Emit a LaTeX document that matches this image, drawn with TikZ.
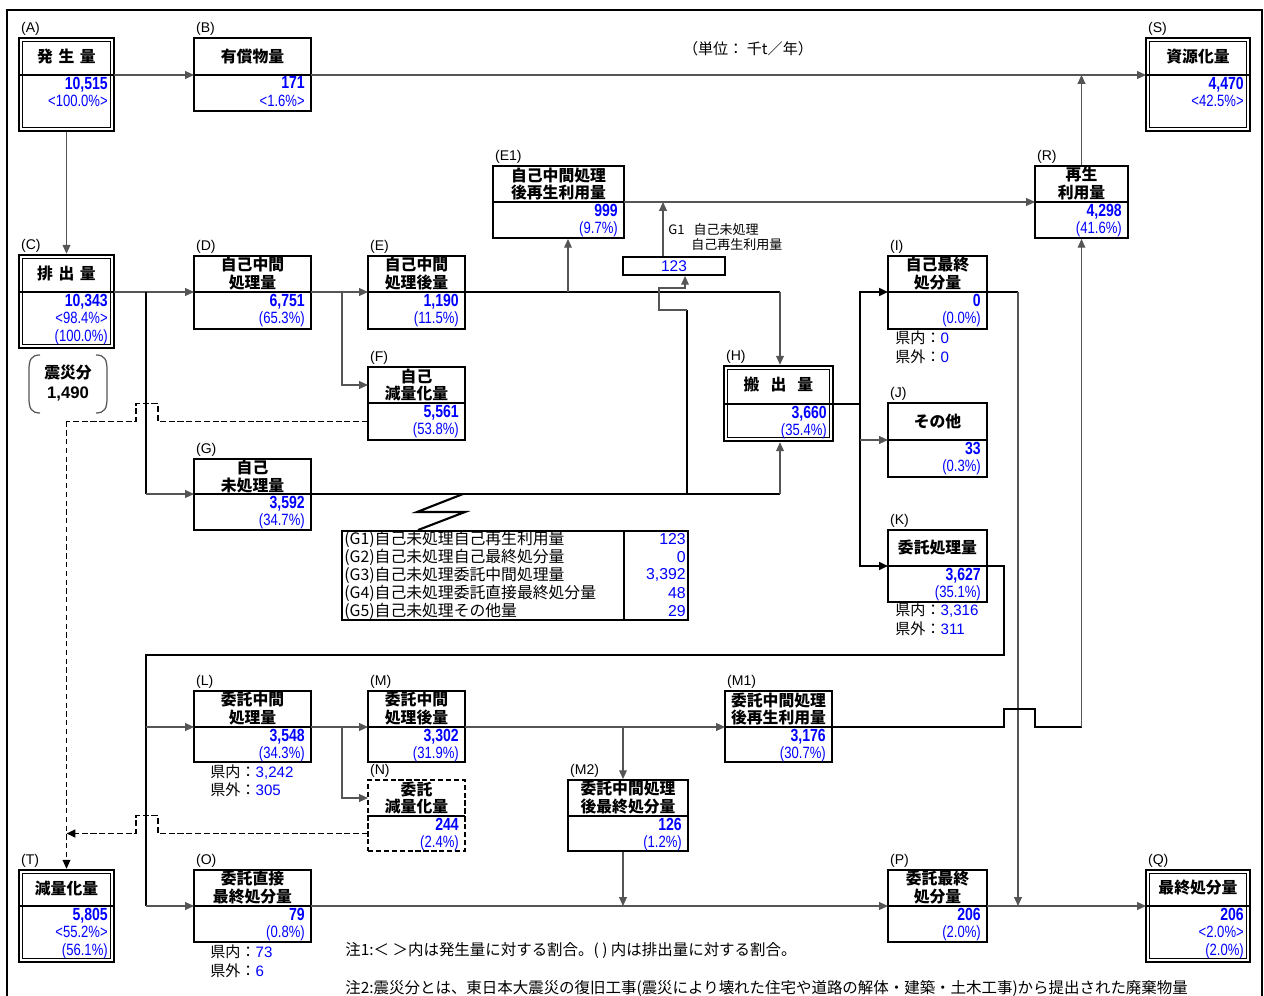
\documentclass[tikz,border=0pt]{standalone}
\usepackage{fontspec}
\setmainfont{Liberation Sans}
\newfontfamily\jp{Noto Sans CJK JP}
\newfontfamily\numfont{Liberation Sans}[FakeStretch=0.8]
\usetikzlibrary{arrows.meta, fit}
\definecolor{ValBlue}{HTML}{0000FF}
\definecolor{LineGray}{HTML}{555555}
\newcommand{\val}[1]{{\numfont\bfseries\fontsize{10}{10.2}\selectfont #1}}
\newcommand{\pct}[1]{{\numfont\fontsize{9.3}{10.2}\selectfont #1}}
\newcommand{\bl}[1]{\textcolor{ValBlue}{\rmfamily #1}}

\tikzset{
  sbox/.style={draw, line width=1.1pt},
  sbox-in/.style={},
  dbox/.style={draw, line width=1.4pt},
  dbox-in/.style={draw, line width=0.7pt},
  nbox/.style={draw, line width=1.1pt, dash pattern=on 3pt off 1.5pt},
  nbox-in/.style={},
  divln/.style={line width=1.1pt},
  hdr/.style={font=\jp\bfseries\fontsize{9}{10.2}\selectfont, align=center, inner sep=0pt},
  vals/.style={anchor=north east, align=right, inner sep=0.8pt, text=ValBlue, font=\fontsize{9.3}{10.2}\selectfont},
  tagtxt/.style={anchor=south west, inner sep=1pt, font=\fontsize{8}{9}\selectfont},
  mainln/.style={line width=1.2pt},
  subln/.style={line width=0.7pt, draw=LineGray},
  dashln/.style={line width=1.1pt, dash pattern=on 3.5pt off 1.5pt},
  dashthin/.style={line width=0.6pt, dash pattern=on 3pt off 2pt},
  jptxt/.style={anchor=west, inner sep=0pt, font=\jp\fontsize{8.6}{10}\selectfont},
}

% style, name, x1, y1, x2, y2, divider y, header, values
\newcommand{\qbox}[9]{%
  \node[#1, fit={(#3,#4) (#5,#6)}, inner sep=0pt] (#2) {};
  \path[#1-in] (#3+3.2,#4+3.2) rectangle (#5-3.2,#6-3.2);
  \draw[divln] (#3,#7) -- (#5,#7);
  \coordinate (#2-l) at (#3,#7);
  \coordinate (#2-r) at (#5,#7);
  \coordinate (#2-hl) at (#3,{(#4+#7)/2});
  \coordinate (#2-vl) at (#3,{(#7+#6)/2});
  \node[hdr] (#2-h) at ({(#3+#5)/2},{(#4+#7)/2}) {#8};
  \node[vals] (#2-v) at (#5-4.5,#7) {#9};
  \node[tagtxt] (#2-t) at (#3,#4) {(#2)};
}

\begin{document}
\begin{tikzpicture}[x=0.02cm, y=-0.02cm, >={Triangle[length=5pt,width=4.4pt]}]
  \useasboundingbox (0,0) rectangle (1264,996);
  \draw[line width=1.1pt] (7,996) -- (7,10) -- (1262,10) -- (1262,996);
  \node[font=\jp\fontsize{8.6}{10}\selectfont] (unit) at (748,49) {（単位：\ 千t／年）};

  % boxes
  \qbox{dbox}{A}{19}{38}{114}{131}{75}{発\hspace{0.35em}生\hspace{0.35em}量}{\val{10,515}\\\pct{<100.0\%>}}
  \qbox{sbox}{B}{194}{38}{311}{111}{75}{有償物量}{\val{171}\\\pct{<1.6\%>}}
  \qbox{dbox}{S}{1146}{38}{1250}{131}{75}{資源化量}{\val{4,470}\\\pct{<42.5\%>}}
  \qbox{dbox}{C}{19}{255}{114}{348}{292}{排\hspace{0.35em}出\hspace{0.35em}量}{\val{10,343}\\\pct{<98.4\%>}\\\pct{(100.0\%)}}
  \qbox{sbox}{D}{194}{256}{311}{329}{292}{自己中間\\処理量}{\val{6,751}\\\pct{(65.3\%)}}
  \qbox{sbox}{E}{368}{256}{465}{329}{292}{自己中間\\処理後量}{\val{1,190}\\\pct{(11.5\%)}}
  \qbox{sbox}{F}{368}{367}{465}{440}{403}{自己\\減量化量}{\val{5,561}\\\pct{(53.8\%)}}
  \qbox{sbox}{G}{194}{459}{311}{530}{494}{自己\\未処理量}{\val{3,592}\\\pct{(34.7\%)}}
  \qbox{sbox}{E1}{493}{166}{624}{238}{202}{自己中間処理\\後再生利用量}{\val{999}\\\pct{(9.7\%)}}
  \qbox{dbox}{H}{724}{366}{833}{441}{404}{搬\hspace{0.7em}出\hspace{0.7em}量}{\val{3,660}\\\pct{(35.4\%)}}
  \qbox{sbox}{I}{888}{256}{987}{329}{292}{自己最終\\処分量}{\val{0}\\\pct{(0.0\%)}}
  \qbox{sbox}{J}{888}{403}{987}{477}{440}{その他}{\val{33}\\\pct{(0.3\%)}}
  \qbox{sbox}{K}{888}{530}{987}{602}{566}{委託処理量}{\val{3,627}\\\pct{(35.1\%)}}
  \qbox{sbox}{R}{1035}{166}{1128}{238}{202}{再生\\利用量}{\val{4,298}\\\pct{(41.6\%)}}
  \qbox{sbox}{L}{194}{691}{311}{762}{727}{委託中間\\処理量}{\val{3,548}\\\pct{(34.3\%)}}
  \qbox{sbox}{M}{368}{691}{465}{762}{727}{委託中間\\処理後量}{\val{3,302}\\\pct{(31.9\%)}}
  \qbox{nbox}{N}{368}{780}{465}{851}{816}{委託\\減量化量}{\val{244}\\\pct{(2.4\%)}}
  \qbox{sbox}{M1}{725}{691}{832}{762}{727}{委託中間処理\\後再生利用量}{\val{3,176}\\\pct{(30.7\%)}}
  \qbox{sbox}{M2}{568}{780}{688}{851}{816}{委託中間処理\\後最終処分量}{\val{126}\\\pct{(1.2\%)}}
  \qbox{sbox}{O}{194}{870}{311}{942}{906}{委託直接\\最終処分量}{\val{79}\\\pct{(0.8\%)}}
  \qbox{sbox}{P}{888}{870}{987}{942}{906}{委託最終\\処分量}{\val{206}\\\pct{(2.0\%)}}
  \qbox{dbox}{Q}{1146}{870}{1250}{962}{906}{最終処分量}{\val{206}\\\pct{<2.0\%>}\\\pct{(2.0\%)}}
  \qbox{dbox}{T}{19}{870}{114}{962}{906}{減量化量}{\val{5,805}\\\pct{<55.2\%>}\\\pct{(56.1\%)}}

  % 123 box and its label
  \node[sbox, fit={(623,257) (725,275)}, inner sep=0pt] (g1box) {};
  \node[text=ValBlue, inner sep=0pt, font=\fontsize{8.8}{10}\selectfont] (g1val) at (g1box.center) {123};
  \node[jptxt, font=\jp\fontsize{7.4}{9}\selectfont] (g1a) at (668,230) {G1\hspace{0.7em}自己未処理};
  \node[jptxt, font=\jp\fontsize{7.4}{9}\selectfont] (g1b) at (691,245) {自己再生利用量};

  % quake share
  \node[hdr] (quake) at (68,373) {震災分};
  \node[inner sep=0pt, font=\bfseries\fontsize{9.5}{10}\selectfont] (quakev) at (68,394) {1,490};
  \draw[LineGray, line width=0.7pt] (40,355) .. controls (31,355) and (29,360) .. (29,370) -- (29,398) .. controls (29,408) and (31,413) .. (40,413);
  \draw[LineGray, line width=0.7pt] (96,355) .. controls (105,355) and (107,360) .. (107,370) -- (107,398) .. controls (107,408) and (105,413) .. (96,413);

  % breakdown table of G
  \node[sbox, fit={(342,531) (688,620)}, inner sep=0pt] (gtab) {};
  \coordinate (gcol) at (624,531);
  \draw[divln] (gcol) -- (gcol |- gtab.south);
  \foreach \k/\txt/\num [count=\i] in {G1/{自己未処理自己再生利用量}/{123},
      G2/{自己未処理自己最終処分量}/{0}, G3/{自己未処理委託中間処理量}/{3,392},
      G4/{自己未処理委託直接最終処分量}/{48}, G5/{自己未処理その他量}/{29}} {
    \node[jptxt, font=\jp\fontsize{9}{10}\selectfont] (gr\i) at (344,521+18*\i) {(\k)\txt};
    \node[anchor=east, inner sep=0pt, text=ValBlue, font=\fontsize{9}{10}\selectfont] (gn\i) at (686,521+18*\i) {\num};
  }

  % prefecture splits
  \node[jptxt] (Iin) at (895,338) {県内：\bl{0}};
  \node[jptxt] (Iout) at (895,357) {県外：\bl{0}};
  \node[jptxt] (Kin) at (895,610) {県内：\bl{3,316}};
  \node[jptxt] (Kout) at (895,629) {県外：\bl{311}};
  \node[jptxt] (Lin) at (210,772) {県内：\bl{3,242}};
  \node[jptxt] (Lout) at (210,790) {県外：\bl{305}};
  \node[jptxt] (Oin) at (210,952) {県内：\bl{73}};
  \node[jptxt] (Oout) at (210,971) {県外：\bl{6}};

  % notes
  \node[jptxt, font=\jp\fontsize{8.8}{10}\selectfont] (note1) at (345,951) {注1:＜ ＞内は発生量に対する割合。( ) 内は排出量に対する割合。};
  \node[jptxt, font=\jp\fontsize{8.8}{10}\selectfont] (note2) at (345,988) {注2:震災分とは、東日本大震災の復旧工事(震災により壊れた住宅や道路の解体・建築・土木工事)から提出された廃棄物量};

  % junctions
  \coordinate (cj) at (146,292);
  \coordinate (dj) at (342,292);
  \coordinate (ej) at (568,292);
  \coordinate (eh) at (780,292);
  \coordinate (gu) at (663,202);
  \coordinate (gh) at (780,494);
  \coordinate (gj) at (687,494);
  \coordinate (gk) at (687,310);
  \coordinate (gm) at (659,288);
  \coordinate (gt) at (685,288);
  \coordinate (zz) at (463,494);
  \coordinate (hj) at (860,404);
  \coordinate (ij) at (1018,292);
  \coordinate (kj) at (1004,655);
  \coordinate (lj) at (146,655);
  \coordinate (mj) at (342,727);
  \coordinate (mk) at (623,727);
  \coordinate (rj) at (R.south |- M1-r);
  \coordinate (tj) at (T.north |- F-vl);

  % connectors
  \draw[subln,->] (A-r) -- (B-l);
  \draw[subln,->] (B-r) -- (S-l);
  \draw[subln,->] (A.south) -- (C.north);
  \draw[subln,->] (C-r) -- (D-l);
  \draw[mainln] (cj) -- (cj |- G-l);
  \draw[subln,->] (cj |- G-l) -- (G-l);
  \draw[subln,->] (D-r) -- (E-l);
  \draw[subln,->] (dj) |- (F-hl);
  \draw[mainln] (E-r) -- (eh);
  \draw[subln,->] (eh) -- (eh |- H.north);
  \draw[subln,->] (ej) -- (ej |- E1.south);
  \draw[subln,->] (E1-r) -- (R-l);
  \draw[subln,->] (gu |- g1box.north) -- (gu);
  \draw[mainln] (G-r) -- (gh);
  \draw[subln,->] (gh) -- (gh |- H.south);
  \draw[mainln] (gj) -- (gk);
  \draw[subln,->] (gk) -| (gm) -- (gt) -- (gt |- g1box.south);
  \draw[mainln] (zz) -- ++(-46,18) -- ++(48,0) -- (gtab.north -| 418,0);
  \draw[mainln] (H-r) -- (hj);
  \draw[mainln,->] (hj) |- (I-l);
  \draw[mainln,->] (hj) |- (K-l);
  \draw[subln,->] (hj |- J-l) -- (J-l);
  \draw[mainln] (I-r) -- (ij);
  \draw[subln,->] (ij) -- (ij |- P-r);
  \draw[mainln] (K-r) -| (kj) -- (lj) -- (lj |- O-l);
  \draw[subln,->] (lj |- L-l) -- (L-l);
  \draw[subln,->] (lj |- O-l) -- (O-l);
  \draw[subln,->] (L-r) -- (M-l);
  \draw[subln,->] (mj) |- (N-hl);
  \draw[subln,->] (M-r) -- (M1-l);
  \draw[subln,->] (mk) -- (mk |- M2.north);
  \draw[subln,->] (mk |- M2.south) -- (mk |- O-r);
  \draw[subln,->] (O-r) -- (P-l);
  \draw[subln,->] (P-r) -- (Q-l);
  \draw[mainln] (M1-r) -- ++(172,0) -- ++(0,-18) -- ++(31,0) -- ++(0,18) -- (rj);
  \draw[subln,->] (rj) -- (R.south);
  \draw[subln,->] (R.north) -- (R.north |- S-l);

  % reduction flows (dashed)
  \draw[dashln] (F-vl) -- ++(-210,0) -- ++(0,-18) -- ++(-22,0) -- ++(0,18) -- (tj);
  \draw[dashthin,->] (tj) -- (T.north);
  \draw[dashln,->] (N-vl) -- ++(-210,0) -- ++(0,-18) -- ++(-22,0) -- ++(0,18) -- (tj |- N-vl);
\end{tikzpicture}
\end{document}
